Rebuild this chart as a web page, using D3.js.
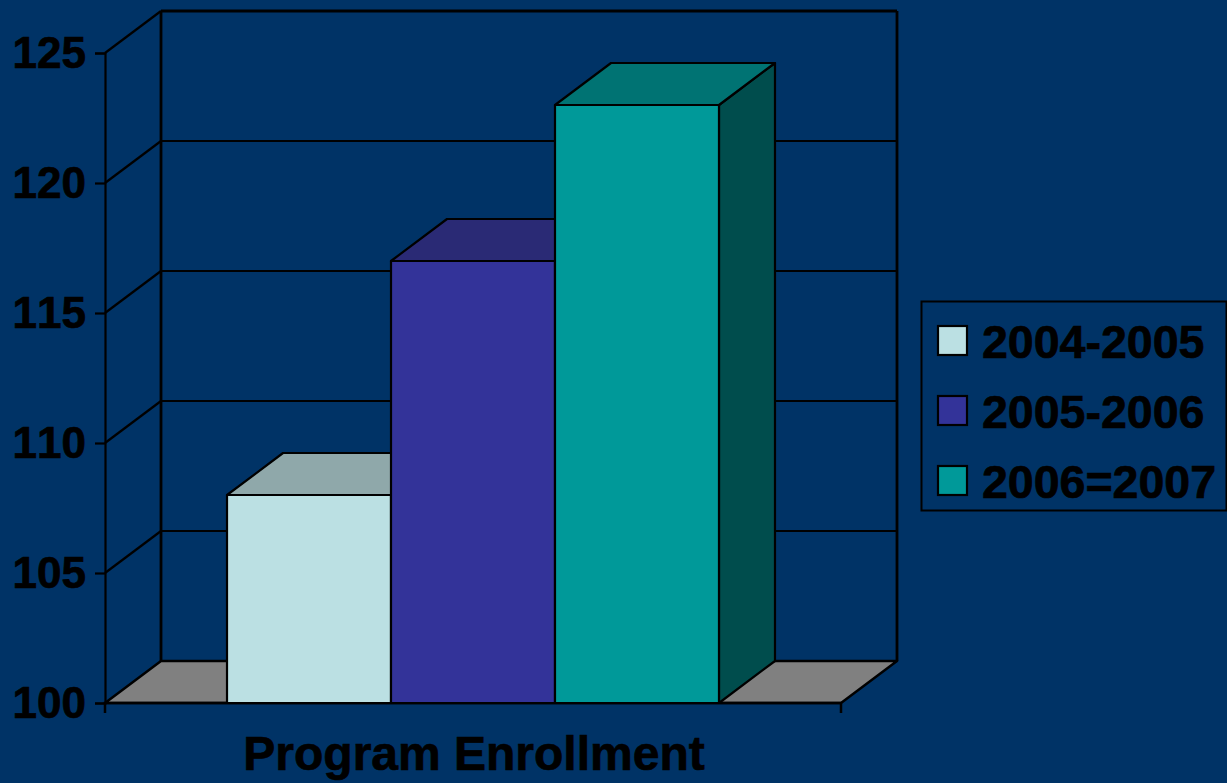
<!DOCTYPE html>
<html lang="en">

<head>
    <meta charset="UTF-8">
    <title>Program Enrollment</title>
    <style>
        html, body { margin: 0; padding: 0; background: #003366; overflow: hidden; }
        svg { display: block; }
        text { font-family: "Liberation Sans", Arial, sans-serif; font-weight: bold; fill: #000; stroke: #000; stroke-width: 0.7px; font-kerning: none; }
    </style>
</head>

<body>
    <script src="https://d3js.org/d3.v7.min.js"></script>
    <script>
        var category = "Program Enrollment";
        var seriesNames = ["2004-2005", "2005-2006", "2006=2007"];
        var seriesValues = [108, 117, 123];
        var seriesColors = ["#bbe0e3", "#333399", "#009999"];
        var topColors = ["#8fa8aa", "#2a2a75", "#007373"];
        var sideColors = ["#5e7072", "#1a1a4d", "#004d4d"];
        var yTicks = [100, 105, 110, 115, 120, 125];

        var dx = 56, dy = -42;   // depth of the 3d box
        var left = 105, right = 841, bottom = 703, top_ = 53;

        var svg = d3.select("body").append("svg").attr("width", 1227).attr("height", 783);

        var y = d3.scaleLinear().domain([100, 125]).range([bottom, top_]);
        var x = d3.scaleBand().domain(seriesNames).range([left, right]).paddingInner(0).paddingOuter(0.744);

        function poly(points, fill, sw) {
            return svg.append("polygon")
                .attr("points", points.map(function (p) { return p.join(","); }).join(" "))
                .attr("fill", fill)
                .attr("stroke", "#000")
                .attr("stroke-width", sw)
                .attr("stroke-linejoin", "round");
        }

        // floor
        poly([[left, bottom], [right, bottom], [right + dx, bottom + dy], [left + dx, bottom + dy]], "#808080", 2.5);

        // side wall and back wall gridlines
        yTicks.forEach(function (t) {
            if (t === 100) return;
            svg.append("line").attr("x1", left).attr("y1", y(t)).attr("x2", left + dx).attr("y2", y(t) + dy)
                .attr("stroke", "#000").attr("stroke-width", 2.2);
            svg.append("line").attr("x1", left + dx).attr("y1", y(t) + dy).attr("x2", right + dx).attr("y2", y(t) + dy)
                .attr("stroke", "#000").attr("stroke-width", 2.2);
        });
        svg.append("line").attr("x1", left + dx).attr("y1", y(125) + dy).attr("x2", left + dx).attr("y2", bottom + dy)
            .attr("stroke", "#000").attr("stroke-width", 2.8);
        svg.append("line").attr("x1", right + dx).attr("y1", y(125) + dy).attr("x2", right + dx).attr("y2", bottom + dy)
            .attr("stroke", "#000").attr("stroke-width", 2.8);
        svg.append("line").attr("x1", left + dx).attr("y1", y(125) + dy).attr("x2", right + dx).attr("y2", y(125) + dy)
            .attr("stroke", "#000").attr("stroke-width", 2.8);

        // axes
        var yAxis = d3.axisLeft(y).tickValues(yTicks).tickSize(10).tickPadding(9).tickFormat(d3.format("d"));
        var gy = svg.append("g").attr("transform", "translate(" + left + ",0)").call(yAxis);
        gy.selectAll("line").attr("stroke", "#000").attr("stroke-width", 2.2);
        gy.select(".domain").attr("stroke", "#000").attr("stroke-width", 2.2);
        gy.selectAll("text").style("font-size", "44px").attr("dy", "0.33em").attr("fill", "#000");

        var xCat = d3.scaleBand().domain([category]).range([left, right]);
        var xAxis = d3.axisBottom(xCat).tickSize(0).tickPadding(33);
        var gx = svg.append("g").attr("transform", "translate(0," + bottom + ")").call(xAxis);
        gx.select(".domain").attr("stroke", "#000").attr("stroke-width", 2.5).attr("d", "M" + left + ",10V0H" + right + "V10");
        gx.selectAll("text").style("font-size", "48px").attr("x", 0).attr("dy", "0.71em").attr("fill", "#000")
            .attr("transform", "translate(1,0)");

        // bars, left to right so each one covers the side of the previous
        seriesNames.forEach(function (name, i) {
            var x0 = x(name), x1 = x0 + x.bandwidth();
            var yv = y(seriesValues[i]);
            poly([[x1, bottom], [x1 + dx, bottom + dy], [x1 + dx, yv + dy], [x1, yv]], sideColors[i], 2.2);
            poly([[x0, yv], [x1, yv], [x1 + dx, yv + dy], [x0 + dx, yv + dy]], topColors[i], 2.2);
            poly([[x0, bottom], [x1, bottom], [x1, yv], [x0, yv]], seriesColors[i], 2.2);
        });

        // legend
        var legendY = d3.scalePoint().domain(seriesNames).range([341, 481]);
        svg.append("rect").attr("x", 921.5).attr("y", 301.5).attr("width", 305).attr("height", 209)
            .attr("fill", "none").attr("stroke", "#000").attr("stroke-width", 2);
        var legend = svg.append("g").selectAll("g").data(seriesNames).enter().append("g")
            .attr("transform", function (d) { return "translate(0," + legendY(d) + ")"; });
        legend.append("rect").attr("x", 938).attr("y", -15).attr("width", 29).attr("height", 29)
            .attr("fill", function (d, i) { return seriesColors[i]; })
            .attr("stroke", "#000").attr("stroke-width", 2.2);
        legend.append("text").attr("x", 982).attr("y", 17).style("font-size", "46.5px")
            .text(function (d) { return d; });
    </script>
</body>

</html>
